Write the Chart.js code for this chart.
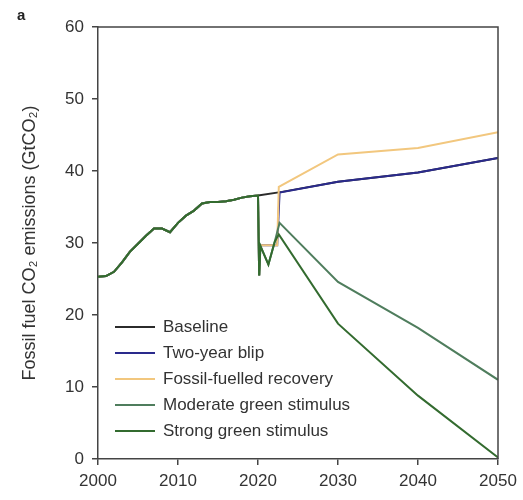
<!DOCTYPE html>
<html>
<head>
<meta charset="utf-8">
<script src="https://cdn.jsdelivr.net/npm/chart.js@4/dist/chart.umd.min.js"></script>
<style>
  html, body { margin: 0; padding: 0; background: #fff; }
  #wrap { width: 523px; height: 500px; }
</style>
</head>
<body>
<div id="wrap"><canvas id="co2chart" width="523" height="500"></canvas></div>
<script>
"use strict";

// historical emissions, GtCO2
var histYears = [2000, 2001, 2002, 2003, 2004, 2005, 2006, 2007, 2008, 2009,
                 2010, 2011, 2012, 2013, 2014, 2015, 2016, 2017, 2018, 2019];
var histValues = [25.3, 25.4, 26.0, 27.3, 28.8, 29.9, 31.0, 32.0, 32.0, 31.5,
                  32.8, 33.8, 34.5, 35.5, 35.7, 35.7, 35.8, 36.0, 36.3, 36.5];

// 2020 covid dip (green scenarios)
var dipYears = [2020.0, 2020.15, 2020.3, 2021.3, 2022.1];
var dipValues = [36.6, 25.5, 29.6, 27.0, 30.2];

// 2020 dip seen in the recovery / blip paths
var flatYears = [2020.0, 2020.15, 2020.25, 2022.4];
var flatValues = [36.6, 25.5, 29.7, 29.7];

var baselineYears = [2020, 2023, 2030, 2040, 2050];
var baselineValues = [36.6, 37.1, 38.5, 39.8, 41.8];

var blipYears = [2022.7, 2030, 2040, 2050];
var blipValues = [37.0, 38.5, 39.8, 41.8];

var fossilYears = [2022.6, 2030, 2040, 2050];
var fossilValues = [37.8, 42.3, 43.2, 45.4];

var moderateYears = [2022.7, 2030, 2040, 2050];
var moderateValues = [32.8, 24.6, 18.2, 11.0];

var strongYears = [2022.6, 2030, 2040, 2050];
var strongValues = [31.2, 18.8, 8.8, 0.2];

var labels = ['Baseline', 'Two-year blip', 'Fossil-fuelled recovery',
              'Moderate green stimulus', 'Strong green stimulus'];
var colors = ['#2b2b2b', '#2a2a8c', '#f2c77e', '#4f7d5d', '#336b2f'];

var xTicks = [2000, 2010, 2020, 2030, 2040, 2050];
var yTicks = [0, 10, 20, 30, 40, 50, 60];

function toPoints(years, values) {
    var pts = [];
    for (var i = 0; i < years.length; i++) {
        pts.push({x: years[i], y: values[i]});
    }
    return pts;
}

var hist = toPoints(histYears, histValues);

function series(parts) {
    var out = hist.slice();
    parts.forEach(function (p) { out = out.concat(p); });
    return out;
}

var datasets = [
    series([toPoints(baselineYears, baselineValues)]),
    series([toPoints(flatYears, flatValues), toPoints(blipYears, blipValues)]),
    series([toPoints(flatYears, flatValues), toPoints(fossilYears, fossilValues)]),
    series([toPoints(dipYears, dipValues), toPoints(moderateYears, moderateValues)]),
    series([toPoints(dipYears, dipValues), toPoints(strongYears, strongValues)])
].map(function (d, i) {
    return {
        label: labels[i],
        data: d,
        borderColor: colors[i],
        backgroundColor: colors[i],
        borderWidth: 2,
        pointRadius: 0,
        tension: 0,
        fill: false,
        order: 5 - i
    };
});

// frame, legend inside the plot and panel letter
var extras = {
    id: 'extras',
    afterDraw: function (chart) {
        var ctx = chart.ctx;
        var a = chart.chartArea;
        ctx.save();
        ctx.strokeStyle = '#444';
        ctx.lineWidth = 1.5;
        ctx.beginPath();
        ctx.moveTo(a.left, a.top);
        ctx.lineTo(a.right, a.top);
        ctx.lineTo(a.right, a.bottom);
        ctx.stroke();

        ctx.font = '17px "Liberation Sans", Arial, sans-serif';
        ctx.textBaseline = 'middle';
        for (var i = 0; i < labels.length; i++) {
            var y = 327 + i * 26;
            ctx.strokeStyle = colors[i];
            ctx.lineWidth = 2;
            ctx.beginPath();
            ctx.moveTo(115, y);
            ctx.lineTo(155, y);
            ctx.stroke();
            ctx.fillStyle = '#333';
            ctx.fillText(labels[i], 163, y);
        }

        ctx.font = 'bold 15px "Liberation Sans", Arial, sans-serif';
        ctx.fillStyle = '#222';
        ctx.fillText('a', 17, 16);
        ctx.restore();
    }
};

var tickFont = {family: '"Liberation Sans", Arial, sans-serif', size: 17};

var ctx = document.getElementById('co2chart').getContext('2d');
var myChart = new Chart(ctx, {
    type: 'line',
    data: {datasets: datasets},
    options: {
        responsive: false,
        animation: false,
        layout: {padding: {top: 27, right: 25, left: 0, bottom: 0}},
        plugins: {
            legend: {display: false},
            tooltip: {enabled: false}
        },
        scales: {
            x: {
                type: 'linear',
                min: 2000,
                max: 2050,
                afterBuildTicks: function (s) {
                    s.ticks = xTicks.map(function (v) { return {value: v}; });
                },
                afterFit: function (s) { s.height = 41; },
                ticks: {
                    color: '#333',
                    font: tickFont,
                    padding: 6,
                    maxRotation: 0,
                    callback: function (v) { return String(v); }
                },
                grid: {drawOnChartArea: false, tickLength: 6, color: '#444', lineWidth: 1.5},
                border: {color: '#444', width: 1.5}
            },
            y: {
                min: 0,
                max: 60,
                afterBuildTicks: function (s) {
                    s.ticks = yTicks.map(function (v) { return {value: v}; });
                },
                afterFit: function (s) { s.width = 98; },
                ticks: {color: '#333', font: tickFont, padding: 8},
                grid: {drawOnChartArea: false, tickLength: 6, color: '#444', lineWidth: 1.5},
                border: {color: '#444', width: 1.5},
                title: {
                    display: true,
                    text: 'Fossil fuel CO\u2082 emissions (GtCO\u2082)',
                    color: '#333',
                    font: {family: '"Liberation Sans", Arial, sans-serif', size: 18},
                    padding: {top: 19, bottom: 0}
                }
            }
        }
    },
    plugins: [extras]
});
</script>
</body>
</html>
